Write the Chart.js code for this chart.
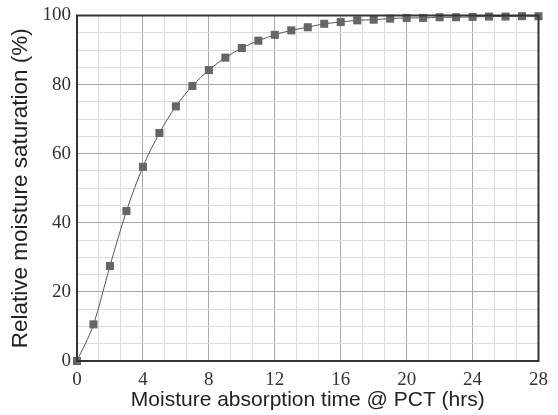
<!DOCTYPE html>
<html>
<head>
<meta charset="utf-8">
<script src="https://cdn.jsdelivr.net/npm/chart.js@4"></script>
<style>
    html, body { margin: 0; padding: 0; background: #fff; }
    #wrap { width: 558px; height: 415px; }
</style>
</head>
<body>
<div id="wrap"><canvas id="chart"></canvas></div>
<script>
// temps d'absorption (h) et saturation relative (%)
const hours = [0, 1, 2, 3, 4, 5, 6, 7, 8, 9, 10, 11, 12, 13, 14, 15, 16, 17, 18, 19, 20, 21, 22, 23, 24, 25, 26, 27, 28];
const saturation = [0, 10.6, 27.5, 43.4, 56.2, 66.0, 73.7, 79.6, 84.2, 87.8, 90.6, 92.7, 94.4, 95.7, 96.6,
    97.6, 98.1, 98.6, 98.8, 99.1, 99.3, 99.3, 99.5, 99.5, 99.6, 99.7, 99.7, 99.8, 99.8];
const xLabels = [0, 4, 8, 12, 16, 20, 24, 28];
const yLabels = [0, 20, 40, 60, 80, 100];

const MAJOR = '#a8a8a8';
const MINOR = '#dcdcdc';
const TICK_FONT = { family: "'Liberation Serif', serif", size: 19, lineHeight: 1 };

// cadre autour de la zone de tracé
const frame = {
    id: 'frame',
    afterDatasetsDraw(chart) {
        const { ctx, chartArea: a } = chart;
        ctx.save();
        ctx.strokeStyle = '#333';
        ctx.lineWidth = 2;
        ctx.strokeRect(a.left, a.top, a.right - a.left, a.bottom - a.top);
        ctx.restore();
    }
};

new Chart(document.getElementById('chart'), {
    type: 'line',
    data: {
        datasets: [{
            data: hours.map((h, i) => ({ x: h, y: saturation[i] })),
            borderColor: '#555',
            borderWidth: 1,
            backgroundColor: '#666',
            pointStyle: 'rect',
            pointRadius: 5.7,
            pointBorderWidth: 0,
            cubicInterpolationMode: 'monotone',
            clip: false
        }]
    },
    options: {
        responsive: true,
        maintainAspectRatio: false,
        animation: false,
        layout: { padding: { top: 13, right: 16, left: 10, bottom: 4 } },
        plugins: { legend: { display: false }, tooltip: { enabled: false } },
        scales: {
            x: {
                type: 'linear',
                min: 0,
                max: 28,
                afterBuildTicks: s => {
                    s.ticks = [];
                    for (let i = 0; i <= 21; i++) s.ticks.push({ value: i * 4 / 3 });
                },
                afterFit: s => { s.height = 50; },
                ticks: {
                    autoSkip: false,
                    maxRotation: 0,
                    padding: 10,
                    color: '#333',
                    font: TICK_FONT,
                    callback: (v, i) => i % 3 === 0 ? String(xLabels[i / 3]) : ''
                },
                grid: {
                    drawTicks: false,
                    color: c => c.index % 3 === 0 ? MAJOR : MINOR
                },
                border: { display: false },
                title: {
                    display: true,
                    text: 'Moisture absorption time @ PCT (hrs)',
                    color: '#222',
                    font: { family: "'Liberation Sans', Arial, sans-serif", size: 21, lineHeight: 1 },
                    padding: { top: 1, bottom: 0 }
                }
            },
            y: {
                min: 0,
                max: 100,
                afterBuildTicks: s => {
                    s.ticks = [];
                    for (let i = 0; i <= 20; i++) s.ticks.push({ value: i * 5 });
                },
                ticks: {
                    autoSkip: false,
                    padding: 6,
                    color: '#333',
                    font: TICK_FONT,
                    callback: (v, i) => i % 4 === 0 ? String(yLabels[i / 4]) : ''
                },
                grid: {
                    drawTicks: false,
                    color: c => c.index % 4 === 0 ? MAJOR : MINOR
                },
                border: { display: false },
                title: {
                    display: true,
                    text: 'Relative moisture saturation (%)',
                    color: '#222',
                    font: { family: "'Liberation Sans', Arial, sans-serif", size: 22.5, lineHeight: 1 },
                    padding: { top: 0, bottom: 4 }
                }
            }
        }
    },
    plugins: [frame]
});
</script>
</body>
</html>
